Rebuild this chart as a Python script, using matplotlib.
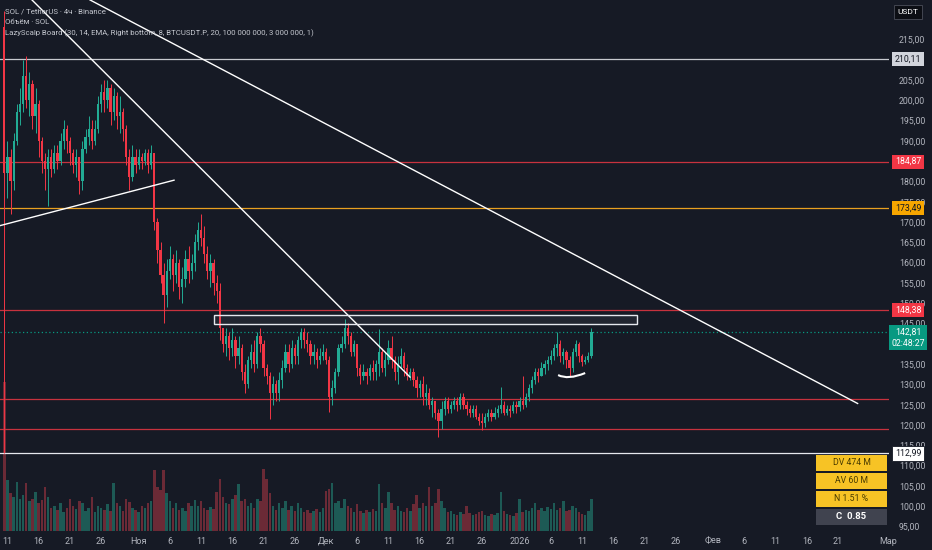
import numpy as np
import pandas as pd
import matplotlib
matplotlib.use("Agg")
import matplotlib.pyplot as plt
import matplotlib.dates as mdates
import matplotlib.transforms as mtrans
from matplotlib.patches import Rectangle, PathPatch
from matplotlib.path import Path

plt.rcParams['font.family'] = ['Roboto', 'DejaVu Sans']

BG = '#161a25'
TXT = '#b2b5be'
UP = '#22ab94'
DOWN = '#f23645'

# --- data: SOL/USDT, 12h candles (first candle = Oct 10 crash)
start_time = "2025-10-10 12:00"
first_open = 218.0
closes = [182,
          186, 180, 190, 197, 199, 206, 200, 204, 196, 199,
          190, 185, 183, 186, 183, 187, 185, 190, 193, 190,
          187, 184, 186, 180, 188, 191, 193, 190, 193, 199,
          202, 200, 203, 197, 201, 196, 197, 193, 186, 181,
          186, 184, 186, 185, 187, 184, 187, 170, 163, 157,
          152, 158, 161, 157, 160, 154, 156, 161, 158, 160,
          165, 168, 166, 162, 158, 160, 155, 153, 144, 140,
          142, 139, 141, 137, 139, 133, 130, 136, 138, 135,
          142, 140, 134, 132, 128, 130, 128, 131, 134, 138,
          135, 139, 137, 141, 143, 141, 140, 137, 138, 136,
          137, 138, 136, 127, 129, 133, 139, 140, 144, 142,
          138, 140, 134, 132, 133, 132, 134, 133, 135, 138,
          134, 136, 139, 136, 133, 135, 137, 134, 132, 133,
          131, 129, 130, 127, 128, 125, 126, 123, 121, 124,
          126, 124, 125, 126, 125, 127, 125, 124, 123, 124,
          122, 121, 120.5, 122, 123, 122, 123, 124, 125, 123,
          124, 123.5, 125, 124.5, 126, 125, 127, 129, 131, 133,
          132, 134, 135, 136, 137, 139, 140, 137, 138, 136,
          134, 138, 140, 137, 135.5, 136, 137, 142.81]
highs = [222,
         190, 188, 192, 199, 203, 210, 211, 207, 205, 203,
         200, 191, 187, 188, 188, 189, 189, 192, 195, 194,
         191, 188, 188, 186, 190, 193, 196, 195, 195, 201,
         204, 205, 205, 204, 203, 202, 201, 198, 194, 188,
         189, 188, 188, 187, 188, 188, 189, 187, 171, 165,
         160, 161, 164, 162, 163, 161, 159, 163, 164, 162,
         167, 170, 172, 169, 164, 162, 161, 157, 155, 144,
         144, 143, 144, 142, 142, 140, 135, 137, 140, 141,
         143, 144, 141, 135, 133, 132, 131, 133, 136, 140,
         140, 141, 140, 142, 144, 144, 143, 141, 140, 139,
         139, 140, 139, 137, 131, 134, 140, 142, 146, 145,
         143, 141, 140, 135, 135, 134, 135, 136, 136, 143.7,
         139, 138, 141, 142, 137, 137, 139, 138, 135, 134,
         134, 132, 131, 132, 130, 129, 127, 126, 124, 126,
         127, 127, 126, 127, 127, 128, 128, 126, 125, 125,
         125, 123, 123, 123, 124, 124, 124.5, 125, 129.4, 126,
         125, 125, 126, 126, 127, 132, 128, 130, 132, 134,
         134, 135.5, 136, 137, 138.5, 140, 143, 141, 139, 138.5,
         137, 139, 141, 140.5, 137.5, 137, 138, 144]
lows = [113,
        176, 172, 178, 189, 194, 197, 198, 196, 193, 192,
        186, 182, 178, 174, 181, 182, 183, 184, 188, 187,
        184, 182, 181, 177, 178, 187, 189, 188, 189, 192,
        197, 197, 198, 194, 195, 193, 192, 190, 184, 178,
        180, 182, 183, 183, 184, 182, 183, 168, 160, 155,
        145, 149, 156, 153, 155, 151, 150, 154, 155, 156,
        158, 163, 164, 160, 156, 154, 152, 150, 141, 138,
        137, 136, 137, 134, 135, 131, 128, 129, 134, 133,
        134, 138, 132, 130, 121.5, 125, 126, 126, 129, 133,
        133, 134, 135, 135, 139, 139, 138, 135, 135, 134,
        135, 136, 135, 123.2, 125, 128, 132, 138, 139, 140,
        137, 137, 132, 130, 131, 130, 131, 131, 131, 132,
        133, 132, 135, 134, 131, 130, 134, 132, 131, 131,
        129.5, 127, 127, 125, 125, 124, 122, 121.5, 117, 119,
        122.5, 123, 123, 124, 123.5, 124, 124, 122.5, 122, 122,
        121.5, 120, 118.8, 119.5, 121, 121, 121.5, 122, 123, 122.5,
        122.5, 122, 123, 123, 123.5, 124, 124.5, 126, 128, 130,
        130.5, 132, 132.5, 133.5, 135, 136, 137, 135.5, 135, 134,
        132, 133, 137, 135.5, 134.5, 135, 135.5, 136.5]
volumes = [14,
           4.8, 3.6, 3.2, 4.6, 3.0, 3.4, 4.5, 2.8, 3.0, 3.7,
           2.6, 2.9, 4.1, 3.2, 2.2, 2.4, 2.0, 2.6, 1.8, 2.2,
           3.0, 2.4, 2.1, 2.8, 2.6, 1.9, 2.2, 3.2, 1.8, 2.4,
           2.2, 2.0, 2.5, 1.9, 4.5, 2.6, 2.4, 1.9, 3.0, 2.7,
           2.2, 2.0, 1.8, 2.4, 2.2, 2.6, 2.8, 5.7, 4.1, 3.9,
           5.7, 3.6, 2.8, 2.2, 2.6, 2.0, 2.2, 1.9, 2.6, 2.4,
           2.9, 2.4, 2.8, 2.2, 2.0, 2.3, 2.1, 3.7, 4.9, 3.2,
           2.6, 2.5, 3.0, 3.4, 4.4, 2.8, 3.0, 2.4, 2.6, 2.2,
           3.0, 2.8, 5.8, 4.9, 3.6, 2.4, 2.0, 2.6, 2.2, 2.8,
           2.0, 2.4, 1.9, 2.6, 2.2, 1.8, 2.0, 1.7, 1.9, 2.1,
           1.8, 2.2, 3.8, 4.0, 4.5, 2.6, 2.8, 2.2, 3.0, 2.4,
           2.2, 1.8, 2.5, 1.9, 1.7, 2.0, 1.8, 2.1, 1.9, 4.4,
           2.6, 2.2, 3.7, 2.6, 2.0, 2.4, 1.9, 1.8, 2.2, 1.9,
           2.5, 3.4, 2.2, 2.6, 2.4, 4.1, 2.4, 2.6, 4.0, 2.8,
           2.2, 1.8, 1.9, 1.6, 1.5, 1.8, 1.6, 2.4, 1.7, 1.5,
           1.6, 1.8, 1.9, 1.5, 1.4, 1.6, 1.5, 1.7, 3.7, 1.9,
           1.6, 1.5, 1.4, 1.7, 3.0, 1.8, 2.0, 1.9, 2.2, 2.6,
           2.0, 2.2, 1.9, 2.3, 2.1, 2.6, 2.0, 2.2, 2.8, 1.9,
           2.0, 2.4, 2.2, 1.8, 1.6, 1.5, 1.9, 3.0]

# horizontal levels drawn on the chart
level_prices = [210.11, 184.87, 173.49, 148.38, 126.4, 119.0, 112.99]
level_colors = ['#c8cad0', '#c8323e', '#e8a020', '#c8323e', '#c8323e', '#c8323e', '#e6e8ee']
level_labels = ['210,11', '184,87', '173,49', '148,38', None, None, '112,99']
label_bg = ['#d1d4dc', '#f23645', '#f7a600', '#f23645', None, None, '#ffffff']
label_fg = ['#131722', '#ffffff', '#131722', '#ffffff', None, None, '#131722']
last_price = 142.81
countdown = "02:48:27"

# trendlines (start, end) as (time, price)
trendlines = [
    (("2025-10-24 05:00", 224.7), ("2026-02-24 03:00", 125.3)),
    (("2025-10-14 22:00", 224.7), ("2025-12-14 11:00", 131.8)),
    (("2025-10-09 19:00", 169.1), ("2025-11-06 16:00", 180.3)),
]
zone_time = ("2025-11-13 03:00", "2026-01-19 19:00")
zone_price = (144.9, 147.1)
smile = [("2026-01-07 04:00", 132.3), ("2026-01-08 18:00", 131.05), ("2026-01-11 12:00", 132.8)]

date_ticks = ["2025-10-11", "2025-10-16", "2025-10-21", "2025-10-26", "2025-11-01", "2025-11-06",
              "2025-11-11", "2025-11-16", "2025-11-21", "2025-11-26", "2025-12-01", "2025-12-06",
              "2025-12-11", "2025-12-16", "2025-12-21", "2025-12-26", "2026-01-01", "2026-01-06",
              "2026-01-11", "2026-01-16", "2026-01-21", "2026-01-26", "2026-02-01", "2026-02-06",
              "2026-02-11", "2026-02-16", "2026-02-21", "2026-03-01"]
date_labels = ["11", "16", "21", "26", "Ноя", "6", "11", "16", "21", "26", "Дек", "6",
               "11", "16", "21", "26", "2026", "6", "11", "16", "21", "26", "Фев", "6",
               "11", "16", "21", "Мар"]
# 210, 185 and 140 sit under the level labels on the scale, as in TradingView
price_ticks = [95, 100, 105, 110, 115, 120, 125, 130, 135, 145, 150, 155, 160, 165,
               170, 175, 180, 190, 195, 200, 205, 215]

board_rows = ["DV 474 M", "AV 60 M", "N 1.51 %", "C  0.85"]

# --- prep
times = pd.date_range(start_time, periods=len(closes), freq="12h")
x = mdates.date2num(times)
c = np.array(closes, dtype=float)
o = np.array([first_open] + closes[:-1], dtype=float)
h = np.array(highs, dtype=float)
l = np.array(lows, dtype=float)
up = c >= o
cols = np.where(up, UP, DOWN)

fig = plt.figure(figsize=(9.32, 5.5), dpi=100, facecolor=BG)
rect = [0, 19 / 550, 889 / 932, 531 / 550]
ax_vol = fig.add_axes(rect)
ax = fig.add_axes(rect, sharex=ax_vol)
ax_vol.set_facecolor(BG)
ax.patch.set_visible(False)

# volume
ax_vol.bar(x, volumes, width=0.4, color=np.where(up, '#1d5a55', '#6b2a36'), linewidth=0)
ax_vol.set_ylim(0, 50)
ax_vol.set_yticks([])
ax_vol.tick_params(axis='x', length=0, labelbottom=False)

# candles
ax.vlines(x, l, h, colors=cols, linewidth=0.7, zorder=3)
body = np.maximum(np.abs(c - o), 0.15)
ax.bar(x, body, bottom=np.minimum(o, c), width=0.36, color=cols, linewidth=0, zorder=3)

# levels
for p, col in zip(level_prices, level_colors):
    ax.axhline(p, color=col, linewidth=0.9, zorder=2)
ax.axhline(last_price, color='#089981', linewidth=0.9, linestyle=(0, (1, 2)), zorder=2)

# drawings
for (t0, p0), (t1, p1) in trendlines:
    xs = mdates.date2num(pd.to_datetime([t0, t1]))
    ax.plot(xs, [p0, p1], color='white', linewidth=1.0, zorder=4)

zx = mdates.date2num(pd.to_datetime(list(zone_time)))
ax.add_patch(Rectangle((zx[0], zone_price[0]), zx[1] - zx[0], zone_price[1] - zone_price[0],
                       facecolor=(1, 1, 1, 0.05), edgecolor='#e6e8ee', linewidth=1.0, zorder=4))

sx = mdates.date2num(pd.to_datetime([s[0] for s in smile]))
arc = Path(list(zip(sx, [s[1] for s in smile])), [Path.MOVETO, Path.CURVE3, Path.CURVE3])
ax.add_patch(PathPatch(arc, fill=False, edgecolor='white', linewidth=1.5, zorder=4))

# axes
x0 = mdates.date2num(pd.Timestamp("2025-10-11")) - 1.2
ax.set_xlim(x0, x0 + 142.35)
ax.set_ylim(93.89, 224.68)
for a in (ax, ax_vol):
    for s in a.spines.values():
        s.set_visible(False)

ax.yaxis.tick_right()
ax.set_yticks(price_ticks)
ax.set_yticklabels([f"{p:.2f}".replace('.', ',') for p in price_ticks])
ax.tick_params(axis='y', length=0, pad=7, labelsize=6.3, labelcolor=TXT)

ax.set_xticks(mdates.date2num(pd.to_datetime(date_ticks)))
ax.set_xticklabels(date_labels)
ax.tick_params(axis='x', length=0, pad=4, labelsize=6.5, labelcolor=TXT)

# price labels on the right scale
tr = mtrans.blended_transform_factory(ax.transAxes, ax.transData)
for p, lab, bg, fg in zip(level_prices, level_labels, label_bg, label_fg):
    if lab is None:
        continue
    ax.text(1.0214, p, lab, transform=tr, ha='center', va='center', fontsize=6.3, color=fg,
            zorder=10, clip_on=False,
            bbox=dict(boxstyle='square,pad=0.3', fc=bg, ec='#131722' if bg == '#ffffff' else 'none', lw=0.6))
ax.text(1.0214, last_price - 1.3, f"{last_price:.2f}".replace('.', ',') + "\n" + countdown,
        transform=tr, ha='center', va='center', fontsize=6.3, color='white', linespacing=1.3,
        zorder=10, clip_on=False, bbox=dict(boxstyle='square,pad=0.3', fc='#089981', ec='none'))

fig.text(908 / 932, 1 - 12 / 550, "USDT", ha='center', va='center', fontsize=6, color='white',
         bbox=dict(boxstyle='square,pad=0.45', fc='#0c0e14', ec='#434651', lw=0.7))

# header texts
hdr = ["SOL / TetherUS · 4ч · Binance", "Объём · SOL",
       "LazyScalp Board (30, 14, EMA, Right bottom, 8, BTCUSDT.P, 20, 100 000 000, 3 000 000, 1)"]
for i, t in enumerate(hdr):
    ax.text(5 / 889, 1 - (11 + 11 * i) / 531, t, transform=ax.transAxes, ha='left', va='center',
            fontsize=5.6, color='#c3c6ce', zorder=10)

# board (bottom right)
row_top = [454, 472, 490, 508]
for i, (txt, top) in enumerate(zip(board_rows, row_top)):
    last = i == len(board_rows) - 1
    fc = '#40434f' if last else '#f7c325'
    fig.add_artist(Rectangle((816 / 932, 1 - (top + 17) / 550), 71 / 932, 16.5 / 550,
                             transform=fig.transFigure, facecolor=fc, edgecolor='none', zorder=20))
    fig.text(851.5 / 932, 1 - (top + 8.5) / 550, txt, ha='center', va='center', zorder=21,
             fontsize=6.8 if last else 6.3, color='white' if last else '#4a3c00',
             fontweight='bold' if last else 'normal')

fig.savefig("out.png", dpi=100, facecolor=BG)
